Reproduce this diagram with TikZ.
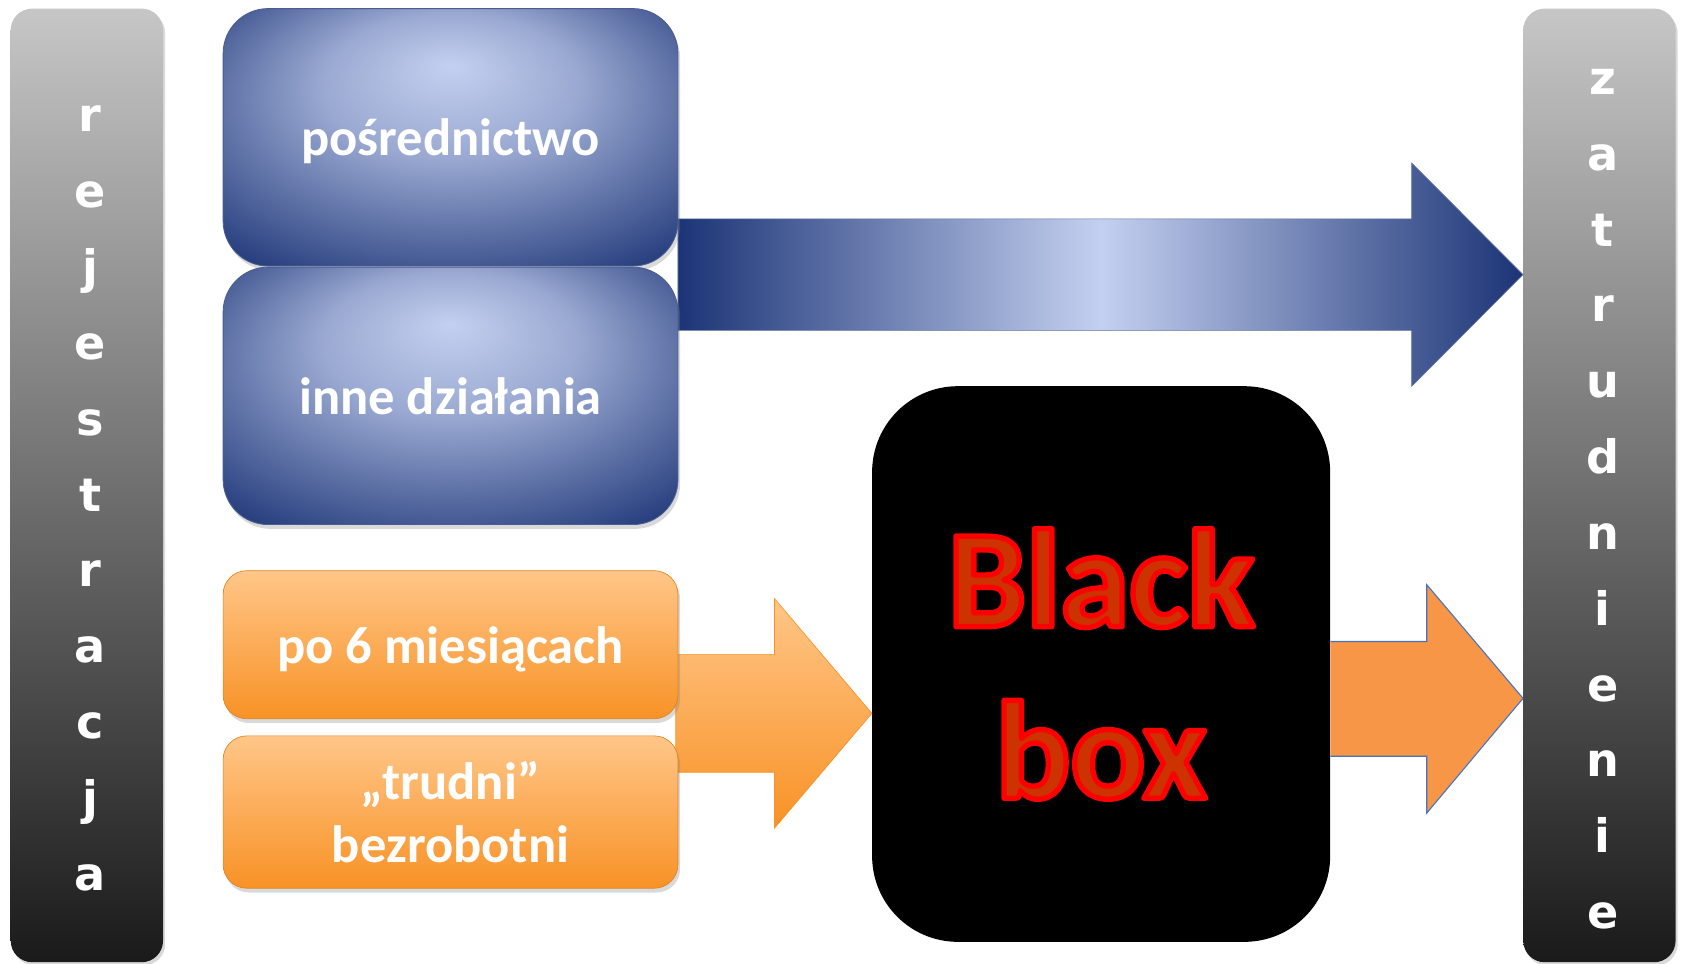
\documentclass[tikz,border=0pt]{standalone}
\usepackage{fontspec}
\setmainfont{Carlito}
\newfontfamily\letterfont{DejaVu Sans}
\usetikzlibrary{shadows}

\definecolor{bluedark}{RGB}{28,52,118}
\definecolor{bluelight}{RGB}{196,208,240}
\definecolor{orangetop}{RGB}{255,198,136}
\definecolor{orangebot}{RGB}{248,146,38}
\definecolor{orangeflat}{RGB}{247,150,70}
\definecolor{arrowedge}{RGB}{68,114,196}
\definecolor{barlight}{RGB}{198,198,198}
\definecolor{bardark}{RGB}{26,26,26}
\definecolor{boxred}{RGB}{204,51,0}

\pgfdeclareradialshading{blueglow}{\pgfpoint{0bp}{14bp}}{color(0bp)=(bluelight); color(14bp)=(bluelight!75!bluedark); color(38bp)=(bluedark); color(50bp)=(bluedark)}

% red outline round the glyphs (stroke and fill)
\newcommand{\outlined}[1]{\special{pdf:literal direct 2 Tr 5 w 1 0 0 RG 1 j}#1\special{pdf:literal direct 0 Tr}}

\tikzset{
  sidebar/.style={rounded corners=20pt, top color=barlight, bottom color=bardark,
    minimum width=142pt, minimum height=889pt, inner sep=0pt,
    drop shadow={shadow xshift=2pt, shadow yshift=-3pt, opacity=0.3}},
  barletter/.style={anchor=base, text=white, inner sep=0pt,
    font=\letterfont\bfseries\fontsize{43}{43}\selectfont},
  bluebox/.style={rounded corners=42pt, shading=blueglow, draw=bluedark!80, line width=0.8pt,
    minimum width=424pt, minimum height=240pt, text=white, inner sep=0pt, text depth=0pt,
    font=\bfseries\fontsize{49}{50}\selectfont,
    drop shadow={shadow xshift=2pt, shadow yshift=-4pt, opacity=0.3}},
  orangebox/.style={rounded corners=22pt, top color=orangetop, bottom color=orangebot,
    draw=orangebot!90!black, line width=0.6pt,
    minimum width=424pt, text=white, inner sep=0pt, align=center,
    font=\bfseries\fontsize{49}{59}\selectfont,
    drop shadow={shadow xshift=2pt, shadow yshift=-4pt, opacity=0.3}},
  bluearrow/.style={left color=bluedark, right color=bluedark, middle color=bluelight,
    draw=bluedark!70, line width=0.6pt},
  orangearrow/.style={top color=orangetop, bottom color=orangebot, draw=orangebot, line width=0.6pt},
  flatarrow/.style={fill=orangeflat, draw=arrowedge, line width=1pt},
  blackbox/.style={rounded corners=80pt, fill=black, minimum width=427pt, minimum height=518pt, inner sep=0pt},
  redtext/.style={align=center, inner sep=0pt, text=boxred, font=\bfseries\fontsize{130}{160}\selectfont}
}

\begin{document}
\begin{tikzpicture}[x=1pt,y=-1pt]
\useasboundingbox (0,0) rectangle (1568,898);

% side bars
\node[sidebar] (rej) at (81,452.5) {};
\node[sidebar] (zatr) at (1491,452.5) {};
\foreach \ch [count=\i from 0] in {r,e,j,e,s,t,r,a,c,j,a}
  \node[barletter] (rej\i) at (84,{123+70.7*\i}) {\ch};
\foreach \ch [count=\i from 0] in {z,a,t,r,u,d,n,i,e,n,i,e}
  \node[barletter] (zatr\i) at (1494,{88+70.7*\i}) {\ch};

% black box
\node[blackbox] (bbox) at (1026.5,619) {};

% block arrows
\draw[bluearrow] (632,204) -- (1316,204) -- (1316,152) -- (zatr.west |- 0,256)
  -- (1316,360) -- (1316,308) -- (632,308) -- cycle;
\draw[orangearrow] (630,610) -- (722,610) -- (722,558) -- (bbox.west |- 0,665)
  -- (722,772) -- (722,720) -- (630,720) -- cycle;
\draw[flatarrow] (bbox.east |- 0,598) -- (1330,598) -- (1330,545) -- (zatr.west |- 0,651)
  -- (1330,758) -- (1330,705) -- (bbox.east |- 0,705);

% boxes
\node[bluebox] (posr) at (420,128) {pośrednictwo};
\node[bluebox] (inne) at (420,369) {inne działania};
\node[orangebox, minimum height=138pt, text depth=0pt] (six) at (420,601) {po 6 miesiącach};
\node[orangebox, minimum height=142pt] (trud) at (420,757) {„trudni”\\bezrobotni};

% Black box text
\node[redtext] (bbtext) at (bbox.center) {\outlined{Black}\\\outlined{box}};

\end{tikzpicture}
\end{document}
